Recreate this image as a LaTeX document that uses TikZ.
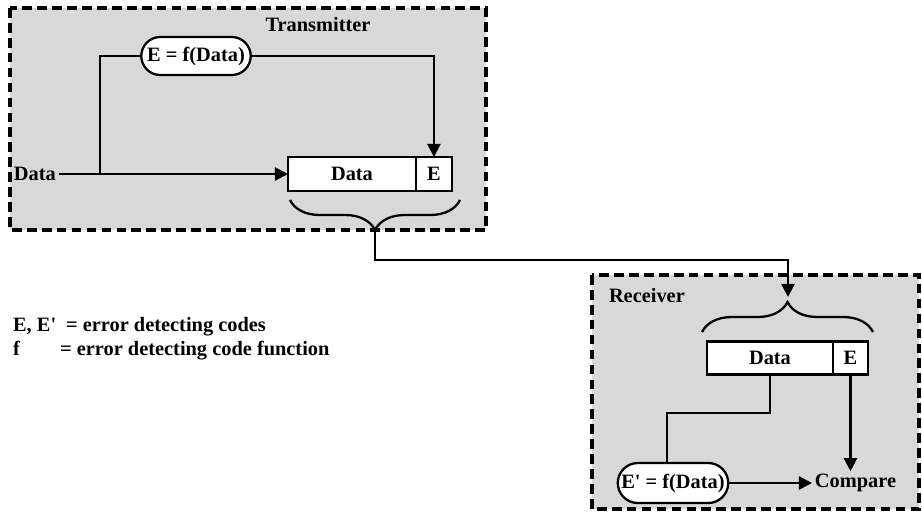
\documentclass[tikz,border=0pt]{standalone}
\usepackage{fontspec}
\setmainfont{Liberation Serif}
\usetikzlibrary{arrows.meta,positioning,shapes.misc,decorations.pathreplacing}
\definecolor{zonegray}{RGB}{216,216,216}

\begin{document}
\begin{tikzpicture}[x=0.02cm,y=-0.02cm,
    font=\fontsize{11.6}{14}\selectfont\bfseries,
    line width=1.3pt,
    zone/.style={draw,fill=zonegray,line width=1.9pt,dash pattern=on 5.5pt off 3pt},
    func/.style={draw,fill=white,rounded rectangle,minimum width=2.26cm,minimum height=0.76cm,inner sep=1pt},
    cell/.style={draw,fill=white,minimum height=0.68cm,inner sep=0pt,outer sep=0pt,anchor=west},
    key/.style={anchor=base west,inner sep=0pt},
    flow/.style={-{Triangle[length=7.5pt,width=7.5pt]}},
    curly/.style={decorate,decoration={brace,amplitude=0.6cm}}]
      \useasboundingbox (0,0) rectangle (922,512);
      % Transmitter and receiver areas
      \draw[zone] (10,8) rectangle (486,230);
      \draw[zone] (592,275) rectangle (919,509);
      \node (tx) at (318,25) {Transmitter};
      \node[anchor=west] (rx) at (602,296) {Receiver};
      % Transmitter side
      \node[anchor=west,inner sep=1pt] (src) at (11,174) {Data};
      \node[func] (fx) at (196,56) {E = f(Data)};
      \node[cell,minimum width=2.56cm] (td) at (288,174) {Data};
      \node[cell,minimum width=0.72cm] (te) at (td.east) {E};
      \coordinate (split) at (100,174);
      \draw[flow] (src.east) -- (td.west);
      \draw (split) |- (fx.west);
      \draw[flow] (fx.east) -| (te.north);
      % Brace under the frame
      \coordinate (tl) at (290,200);
      \coordinate (tr) at (460,200);
      \coordinate (ttip) at (375,230);
      \draw[curly] (tr) -- (tl);
      % Link to receiver
      \coordinate (bend) at (375,260);
      \coordinate (rtip) at (788,297);
      \draw[flow] (ttip) -- (bend) -| (rtip);
      % Receiver side
      \coordinate (rl) at (702,332);
      \coordinate (rr) at (873,332);
      \draw[curly] (rl) -- (rr);
      \node[cell,minimum width=2.52cm,minimum height=0.66cm] (rd) at (707,358) {Data};
      \node[cell,minimum width=0.7cm,minimum height=0.66cm] (re) at (rd.east) {E};
      \node[func,minimum width=2.28cm,minimum height=0.8cm] (fr) at (673,483) {E\textquotesingle{} = f(Data)};
      \node[anchor=west,inner sep=1pt] (cmp) at (812,483) {Compare};
      \coordinate (jog) at (667,413);
      \draw (rd.south) |- (jog) -- (jog |- fr.north);
      \draw[flow] (fr.east) -- (cmp.west);
      \draw[flow] (re.south) -- (re.south |- cmp.north);
      % Legend
      \node[key] (k1) at (12,331) {E, E\textquotesingle};
      \node[key] (k1t) at (65,331) {= error detecting codes};
      \node[key] (k2) at (12,355) {f};
      \node[key] (k2t) at (59,355) {= error detecting code function};
\end{tikzpicture}
\end{document}
